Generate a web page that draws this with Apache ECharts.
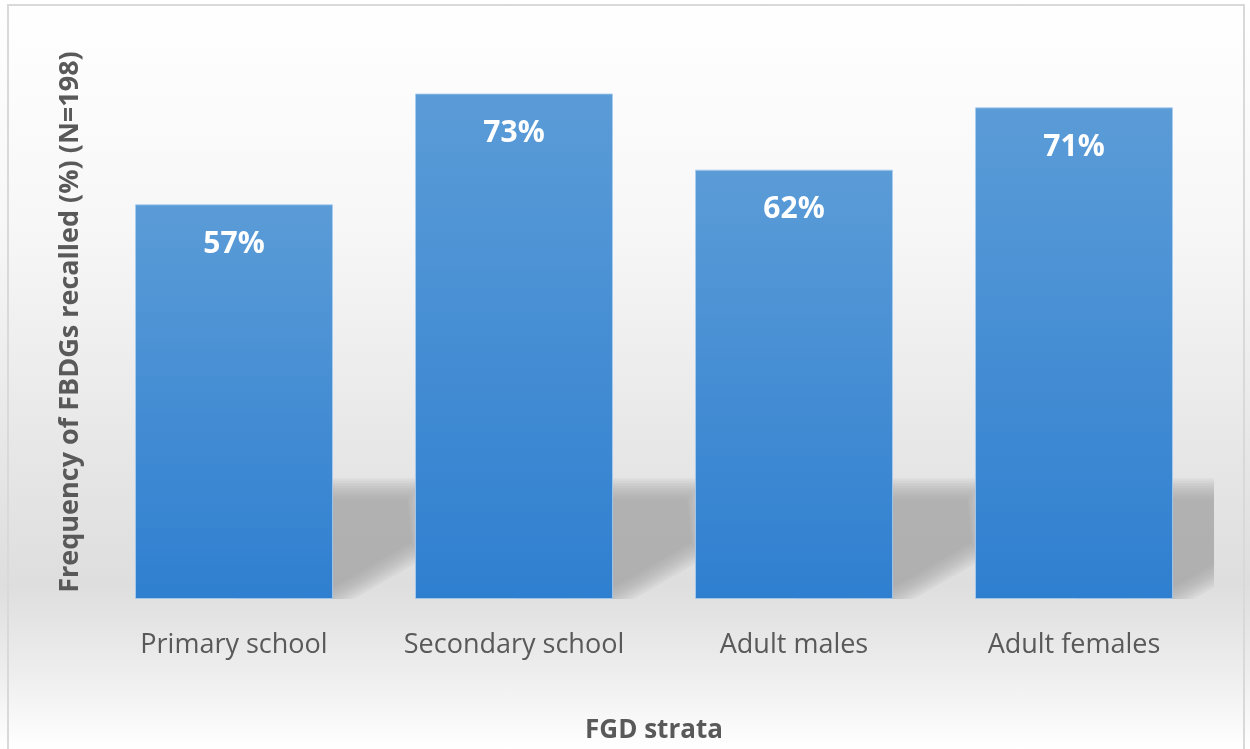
<!DOCTYPE html>
<html>
<head>
<meta charset="utf-8">
<script src="https://cdn.jsdelivr.net/npm/echarts@6/dist/echarts.min.js"></script>
<style>
  html, body { margin: 0; padding: 0; }
  body { width: 1250px; height: 749px; overflow: hidden; position: relative; background: #fff; }
  #chart {
    position: absolute; left: 0; top: 0; width: 1250px; height: 749px;
    background: linear-gradient(to bottom, #ffffff 0%, #f7f7f7 30%, #e8e8e8 58%, #dedede 78%, #eeeeee 90%, #ffffff 100%);
  }
  #frame {
    position: absolute; left: 7px; top: 4px; width: 1234px; height: 770px;
    border: 2px solid #d9d9d9; pointer-events: none;
  }
</style>
</head>
<body>
<div id="chart"></div>
<div id="frame"></div>
<script>
// data
const strata = ['Primary school', 'Secondary school', 'Adult males', 'Adult females'];
const recalled = [57, 73, 62, 71];

// floor shadow look
const shadowTop = 16; // axis units above the floor
const shadowReach = 84; // px to the right of each bar
const shadowRise = 48; // px the lower edge climbs over the reach

const chart = echarts.init(document.getElementById('chart'));

function renderShadow(params, api) {
  const idx = api.value(0);
  const base = api.coord([idx, 0]);
  const top = api.coord([idx, shadowTop])[1];
  const half = api.size([1, 0])[0] * 0.354;
  const cx = base[0];
  const right = cx + half;
  const layers = [];
  // stacked translucent copies, each grown a bit, give a soft edge
  for (let o = -10; o <= 10; o += 2.5) {
    layers.push({
      type: 'polygon',
      shape: {
        points: [
          [cx, top - o],
          [right + shadowReach + o, top - o],
          [right + shadowReach + o * 0.5, base[1] - shadowRise + o * 0.87],
          [right + o * 0.5, base[1] + o * 0.87],
          [cx, base[1] + 10]
        ]
      },
      style: { fill: 'rgba(145,145,145,0.1)' }
    });
  }
  return { type: 'group', children: layers };
}

chart.setOption({
  animation: false,
  grid: { left: 94, right: 36, top: 45, bottom: 146 },
  xAxis: {
    type: 'category',
    data: strata,
    name: 'FGD strata',
    nameLocation: 'middle',
    nameGap: 119,
    nameTextStyle: { fontFamily: 'Open Sans', fontWeight: 'bold', fontSize: 26, color: '#595959' },
    axisLine: { show: false },
    axisTick: { show: false },
    axisLabel: { interval: 0, margin: 33, fontFamily: 'Open Sans', fontSize: 27, color: '#595959' }
  },
  yAxis: {
    type: 'value',
    min: 0,
    max: 80,
    name: 'Frequency of FBDGs recalled (%) (N=198)',
    nameLocation: 'middle',
    nameGap: 10,
    nameTextStyle: { fontFamily: 'Open Sans', fontWeight: 'bold', fontSize: 27, color: '#595959' },
    axisLine: { show: false },
    axisTick: { show: false },
    axisLabel: { show: false },
    splitLine: { show: false }
  },
  series: [
    {
      type: 'custom',
      z: 1,
      clip: true,
      silent: true,
      renderItem: renderShadow,
      data: recalled.map((v, i) => [i])
    },
    {
      type: 'bar',
      z: 2,
      data: recalled,
      barWidth: 198,
      itemStyle: {
        color: new echarts.graphic.LinearGradient(0, 0, 0, 1, [
          { offset: 0, color: '#5b9cd7' },
          { offset: 1, color: '#2f7fd0' }
        ]),
        borderColor: 'rgba(170,205,240,0.8)',
        borderWidth: 1
      },
      label: {
        show: true,
        position: 'insideTop',
        distance: 25,
        formatter: '{c}%',
        fontFamily: 'Open Sans',
        fontWeight: 'bold',
        fontSize: 30,
        color: '#ffffff'
      }
    }
  ]
});
</script>
</body>
</html>
